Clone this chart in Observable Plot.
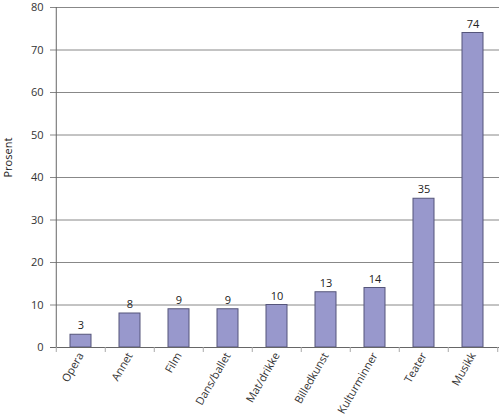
<!DOCTYPE html>
<html>
<head>
<meta charset="utf-8">
<script src="https://cdn.jsdelivr.net/npm/d3@7"></script>
<script src="https://cdn.jsdelivr.net/npm/@observablehq/plot@0.6"></script>
<style>
  body { margin: 0; background: #fff; }
  #chart svg { font-family: "Open Sans", "DejaVu Sans", sans-serif; }
</style>
</head>
<body>
<div id="chart"></div>
<script>
// ---------- Data ----------
const categories = ["Opera", "Annet", "Film", "Dans/ballet", "Mat/drikke",
                    "Billedkunst", "Kulturminner", "Teater", "Musikk"];
const values = [3, 8, 9, 9, 10, 13, 14, 35, 74];
const yTicks = [0, 10, 20, 30, 40, 50, 60, 70, 80];

const rows = categories.map((c, i) => ({ category: c, value: values[i] }));

const W = 500, H = 419;
const mL = 54, mR = 1, mT = 7, mB = 72;
const step = (W - mL - mR) / categories.length;

const chart = Plot.plot({
  width: W, height: H,
  marginLeft: mL, marginRight: mR, marginTop: mT, marginBottom: mB,
  style: { fontSize: "11px", color: "#333", background: "#fff" },
  // inner padding for bar width, half of it outside so each bar sits centred in its cell
  x: { domain: categories, paddingInner: 0.58, paddingOuter: 0.29, label: null },
  y: { domain: [0, 80], label: null },
  marks: [
    // horizontal gridlines with their ticks
    Plot.ruleY(yTicks.filter(d => d > 0), { stroke: "#888", strokeWidth: 1, insetLeft: -4 }),
    Plot.axisY({ ticks: yTicks, tickSize: 0, tickPadding: 11, fontSize: 11, label: null }),
    Plot.text(["Prosent"], {
      frameAnchor: "left", dx: -46, rotate: -90, fontSize: 11, fill: "#222"
    }),
    // bars
    Plot.barY(rows, { x: "category", y: "value", fill: "#9898cc", stroke: "#55557a", strokeWidth: 1 }),
    Plot.text(rows, { x: "category", y: "value", text: d => String(d.value), dy: -9, fontSize: 11, fill: "#222" }),
    // axes lines
    Plot.ruleY([0], { stroke: "#666", insetLeft: -4 }),
    Plot.ruleX([0], { x: () => categories[0], dx: -step / 2, y1: 0, y2: 80, stroke: "#666" }),
    // category boundary ticks below the baseline
    Plot.ruleX(categories, { x: d => d, dx: -step / 2, y1: 0, y2: 0, insetBottom: -5, stroke: "#aaa" }),
    Plot.ruleX([categories[categories.length - 1]], { x: d => d, dx: step / 2, y1: 0, y2: 0, insetBottom: -5, stroke: "#aaa" }),
    Plot.axisX({ tickSize: 0, tickRotate: -60, tickPadding: 6, fontSize: 11, label: null })
  ]
});

document.getElementById("chart").appendChild(chart);
</script>
</body>
</html>
